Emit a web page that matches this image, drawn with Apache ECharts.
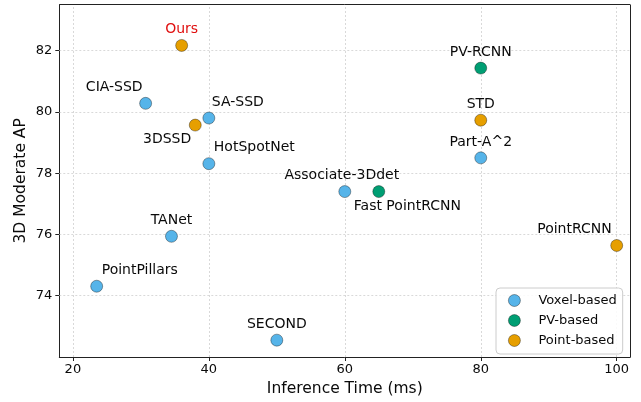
<!DOCTYPE html>
<html>
<head>
<meta charset="utf-8">
<script src="https://cdn.jsdelivr.net/npm/echarts@6/dist/echarts.min.js"></script>
<style>html,body{margin:0;padding:0;background:#fff}#c{width:641px;height:402px}</style>
</head>
<body>
<div id="c"></div>
<script>
// ---- data ----
const methods = ['Ours','CIA-SSD','SA-SSD','3DSSD','HotSpotNet','Associate-3Ddet','Fast PointRCNN','PV-RCNN','STD','Part-A^2','TANet','PointPillars','SECOND','PointRCNN'];
const inferenceTime = [36, 30.7, 40, 38, 40, 60, 65, 80, 80, 80, 34.5, 23.5, 50, 100];
const moderateAP   = [82.17, 80.28, 79.80, 79.57, 78.31, 77.40, 77.40, 81.43, 79.73, 78.50, 75.94, 74.31, 72.55, 75.64];
const methodType   = ['Point-based','Voxel-based','Voxel-based','Point-based','Voxel-based','Voxel-based','PV-based','PV-based','Point-based','Voxel-based','Voxel-based','Voxel-based','Voxel-based','Point-based'];
const categories = ['Voxel-based','PV-based','Point-based'];
const xTicks = [20, 40, 60, 80, 100];
const yTicks = [74, 76, 78, 80, 82];

// ---- styles ----
const colors = {'Voxel-based':'#56B4E9','PV-based':'#009E73','Point-based':'#E69F00'};
const labelPlacement = {
  'Ours':            {align:'center', offset:[0,-16]},
  'CIA-SSD':         {align:'right',  offset:[-3,-16]},
  'SA-SSD':          {align:'left',   offset:[3,-16]},
  '3DSSD':           {align:'right',  offset:[-4,14]},
  'HotSpotNet':      {align:'left',   offset:[5,-16]},
  'Associate-3Ddet': {align:'center', offset:[-3,-16]},
  'Fast PointRCNN':  {align:'left',   offset:[-25,15]},
  'PV-RCNN':         {align:'center', offset:[0,-16]},
  'STD':             {align:'center', offset:[0,-16]},
  'Part-A^2':        {align:'center', offset:[0,-16]},
  'TANet':           {align:'center', offset:[0,-16]},
  'PointPillars':    {align:'left',   offset:[5,-16]},
  'SECOND':          {align:'center', offset:[0,-16]},
  'PointRCNN':       {align:'right',  offset:[-5,-16]}
};
const FONT = 'DejaVu Sans';
const EDGE = 'rgba(0,0,0,0.45)';

const series = categories.map(cat => {
  const data = [];
  methods.forEach((m, i) => {
    if (methodType[i] !== cat) return;
    const lp = labelPlacement[m];
    data.push({
      name: m,
      value: [inferenceTime[i], moderateAP[i]],
      label: {
        show: true, formatter: m, position: 'inside',
        align: lp.align, verticalAlign: 'middle', offset: lp.offset,
        color: m === 'Ours' ? '#e01010' : '#0a0a0a',
        fontFamily: FONT, fontSize: 14
      }
    });
  });
  return {
    name: cat, type: 'scatter', data, symbolSize: 12,
    itemStyle: {color: colors[cat], borderColor: EDGE, borderWidth: 0.8, opacity: 1},
    emphasis: {disabled: true},
    zlevel: 1, z: 3
  };
});

const chart = echarts.init(document.getElementById('c'), null, {renderer: 'canvas'});
chart.setOption({
  animation: false,
  backgroundColor: '#fff',
  textStyle: {fontFamily: FONT},
  grid: {left: 59.3, right: 10.7, top: 4.7, bottom: 44.7, containLabel: false, show: false},
  legend: {
    data: categories.map(c => ({name: c, icon: 'circle', itemStyle: {color: colors[c], borderColor: EDGE, borderWidth: 0.8}})),
    orient: 'vertical', left: 496, top: 288,
    itemWidth: 12, itemHeight: 12, itemGap: 7,
    padding: [6, 6, 7, 12],
    borderColor: '#cccccc', borderWidth: 1, borderRadius: 4,
    backgroundColor: 'rgba(255,255,255,0.85)',
    textStyle: {fontFamily: FONT, fontSize: 13, color: '#0a0a0a', padding: [0, 0, 0, 13]},
    selectedMode: false,
    zlevel: 2
  },
  xAxis: {
    type: 'value', min: 18, max: 102,
    name: 'Inference Time (ms)', nameLocation: 'middle', nameGap: 24, nameMoveOverlap: false,
    nameTextStyle: {fontFamily: FONT, fontSize: 15.5, color: '#0a0a0a'},
    axisLine: {show: true, onZero: false, lineStyle: {color: '#222', width: 1}},
    axisTick: {show: true, length: 4, lineStyle: {color: '#222'}, customValues: xTicks},
    axisLabel: {fontFamily: FONT, fontSize: 13, color: '#0a0a0a', margin: 6, customValues: xTicks},
    splitLine: {show: false}
  },
  yAxis: {
    type: 'value', min: 72, max: 83.5,
    name: '3D Moderate AP', nameLocation: 'middle', nameGap: 30, nameRotate: 90, nameMoveOverlap: false,
    nameTextStyle: {fontFamily: FONT, fontSize: 15.5, color: '#0a0a0a'},
    axisLine: {show: true, onZero: false, lineStyle: {color: '#222', width: 1}},
    axisTick: {show: true, length: 4, lineStyle: {color: '#222'}, customValues: yTicks},
    axisLabel: {fontFamily: FONT, fontSize: 13, color: '#0a0a0a', margin: 7, customValues: yTicks},
    splitLine: {show: false}
  },
  series: series.concat([{
    type: 'scatter', data: [], silent: true, z: 1,
    markLine: {
      silent: true, symbol: 'none', label: {show: false},
      lineStyle: {color: '#d0d0d0', type: [2, 2], width: 0.8},
      data: xTicks.map(v => ({xAxis: v})).concat(yTicks.map(v => ({yAxis: v})))
    }
  }, {
    // top & right frame lines
    type: 'scatter', data: [], silent: true, z: 2,
    markLine: {
      silent: true, symbol: 'none', label: {show: false},
      lineStyle: {color: '#222', type: 'solid', width: 1},
      data: [{xAxis: 102}, {yAxis: 83.5}]
    }
  }])
});
</script>
</body>
</html>
